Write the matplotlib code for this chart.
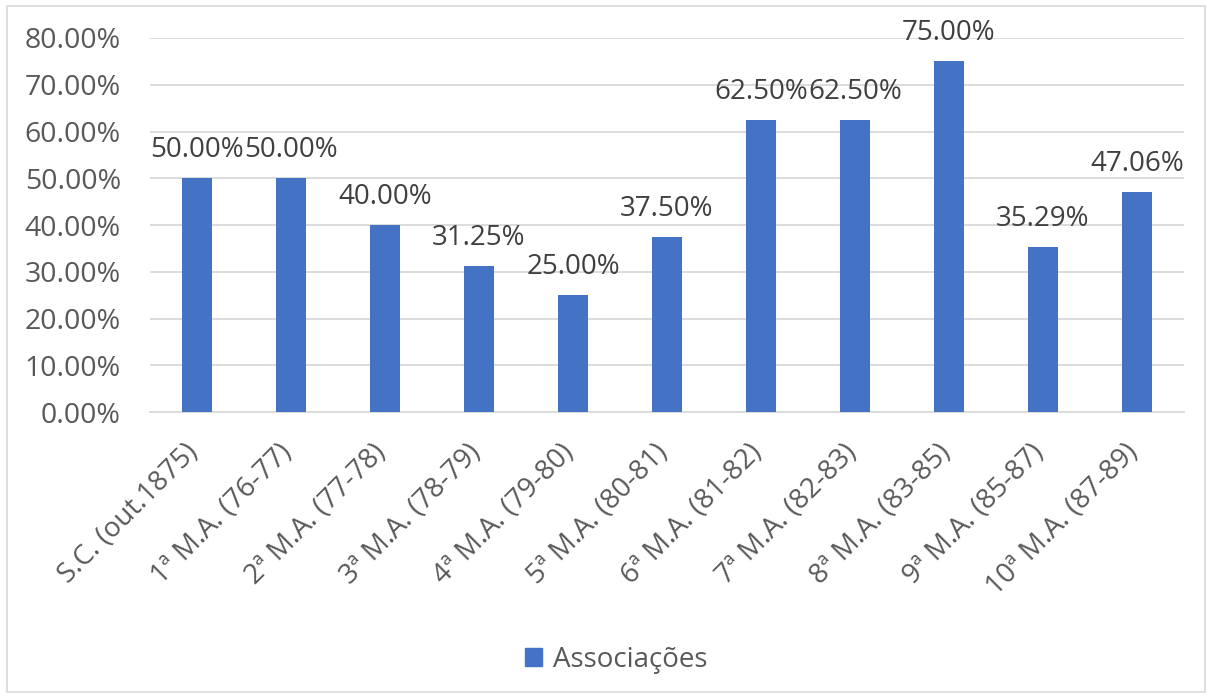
import matplotlib
matplotlib.use("Agg")
import matplotlib.pyplot as plt
import matplotlib.transforms as mtransforms
from matplotlib.patches import Rectangle

categories = ["S.C. (out.1875)", "1ª M.A. (76-77)", "2ª M.A. (77-78)", "3ª M.A. (78-79)",
              "4ª M.A. (79-80)", "5ª M.A. (80-81)", "6ª M.A. (81-82)", "7ª M.A. (82-83)",
              "8ª M.A. (83-85)", "9ª M.A. (85-87)", "10ª M.A. (87-89)"]
values = [50.00, 50.00, 40.00, 31.25, 25.00, 37.50, 62.50, 62.50, 75.00, 35.29, 47.06]
y_ticks = [0, 10, 20, 30, 40, 50, 60, 70, 80]
series_name = "Associações"

plt.rcParams['font.family'] = ['Open Sans', 'DejaVu Sans']

W, H = 1211, 698
fig = plt.figure(figsize=(W / 100, H / 100), dpi=100)

# chart frame
fig.patches.append(Rectangle((7 / W, 6 / H), 1198 / W, 686 / H, transform=fig.transFigure,
                             fill=False, edgecolor="#d9d9d9", linewidth=1.2))

left, right, top, bottom = 150, 1184, 38, 412
ax = fig.add_axes([left / W, 1 - bottom / H, (right - left) / W, (bottom - top) / H])

x = list(range(len(categories)))
ax.bar(x, values, width=0.32, color="#4472C4", zorder=3)

ax.set_xlim(-0.5, len(categories) - 0.5)
ax.set_ylim(0, 80)
ax.set_yticks(y_ticks)
ax.set_yticklabels([f"{t:.2f}%" for t in y_ticks], fontsize=20.5, color="#595959")
ax.yaxis.grid(True, color="#d9d9d9", linewidth=1.3, zorder=0)
ax.tick_params(axis="y", length=0, pad=21)
ax.tick_params(axis="x", length=0, pad=19)
for s in ["top", "right", "left"]:
    ax.spines[s].set_visible(False)
ax.spines["bottom"].set_color("#d9d9d9")
ax.spines["bottom"].set_linewidth(1.3)

ax.set_xticks(x)
ax.set_xticklabels(categories, rotation=45, ha="right", rotation_mode="anchor",
                   fontsize=20, color="#595959")
shift = mtransforms.ScaledTranslation(-9 / 72, 0, fig.dpi_scale_trans)
for lbl in ax.get_xticklabels():
    lbl.set_transform(lbl.get_transform() + shift)

for xi, v in zip(x, values):
    ax.annotate(f"{v:.2f}%", (xi, v), xytext=(0, 10), textcoords="offset points",
                ha="center", va="bottom", fontsize=20, color="#404040")

handle = Rectangle((0, 0), 1, 1, color="#4472C4")
fig.legend([handle], [series_name], loc="center", bbox_to_anchor=(616 / W, 1 - 660 / H),
           frameon=False, fontsize=20, labelcolor="#595959", handlelength=0.6,
           handleheight=0.6, handletextpad=0.4)

fig.savefig("out.png", dpi=100)
